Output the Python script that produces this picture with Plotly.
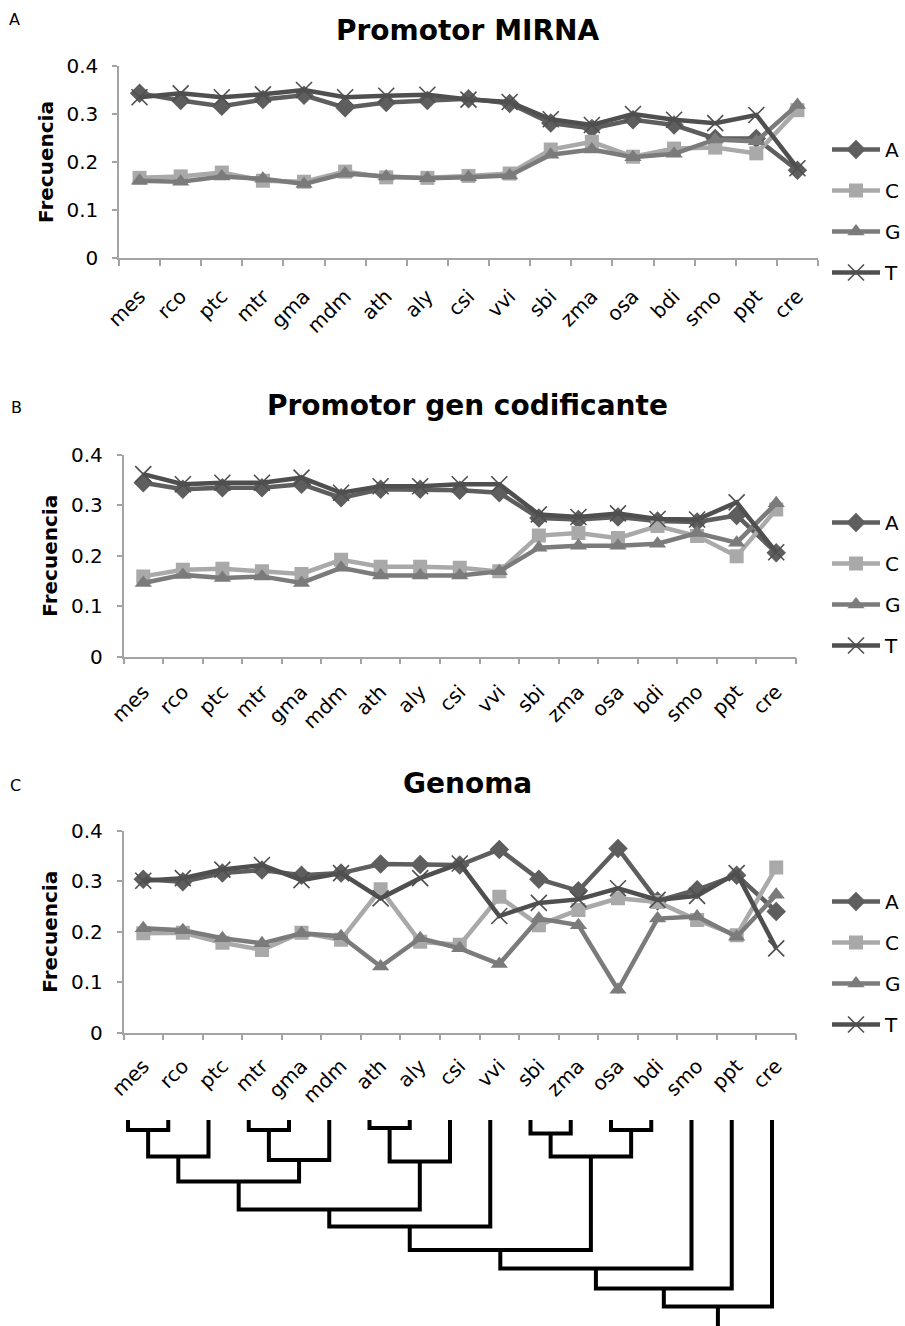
import plotly.graph_objects as go

# ---------------- data ----------------
cats = ["mes", "rco", "ptc", "mtr", "gma", "mdm", "ath", "aly", "csi",
        "vvi", "sbi", "zma", "osa", "bdi", "smo", "ppt", "cre"]

# Panel A: Promotor MIRNA
mirna_A = [0.343, 0.328, 0.316, 0.330, 0.339, 0.313, 0.324, 0.328, 0.332,
           0.322, 0.281, 0.270, 0.288, 0.277, 0.249, 0.249, 0.183]
mirna_C = [0.167, 0.170, 0.178, 0.161, 0.159, 0.180, 0.168, 0.167, 0.171,
           0.176, 0.226, 0.242, 0.211, 0.228, 0.230, 0.218, 0.308]
mirna_G = [0.161, 0.159, 0.170, 0.165, 0.154, 0.176, 0.170, 0.166, 0.168,
           0.172, 0.215, 0.226, 0.210, 0.217, 0.247, 0.243, 0.319]
mirna_T = [0.335, 0.343, 0.335, 0.341, 0.350, 0.335, 0.338, 0.340, 0.330,
           0.325, 0.289, 0.277, 0.300, 0.288, 0.281, 0.298, 0.187]

# Panel B: Promotor gen codificante
gen_A = [0.345, 0.332, 0.335, 0.335, 0.342, 0.315, 0.332, 0.332, 0.330,
         0.325, 0.275, 0.272, 0.277, 0.269, 0.267, 0.280, 0.206]
gen_C = [0.159, 0.172, 0.174, 0.169, 0.164, 0.192, 0.178, 0.178, 0.176,
         0.169, 0.240, 0.245, 0.235, 0.259, 0.239, 0.199, 0.292]
gen_G = [0.146, 0.162, 0.156, 0.159, 0.146, 0.176, 0.161, 0.161, 0.161,
         0.169, 0.216, 0.220, 0.220, 0.224, 0.245, 0.226, 0.304]
gen_T = [0.362, 0.342, 0.345, 0.345, 0.355, 0.325, 0.338, 0.338, 0.342,
         0.342, 0.282, 0.277, 0.284, 0.273, 0.272, 0.306, 0.207]

# Panel C: Genoma
geno_A = [0.304, 0.299, 0.316, 0.322, 0.312, 0.316, 0.334, 0.333, 0.332,
          0.363, 0.304, 0.281, 0.365, 0.261, 0.283, 0.312, 0.240]
geno_C = [0.197, 0.198, 0.178, 0.164, 0.198, 0.184, 0.284, 0.180, 0.174,
          0.269, 0.213, 0.243, 0.266, 0.259, 0.223, 0.193, 0.327]
geno_G = [0.207, 0.203, 0.187, 0.177, 0.197, 0.191, 0.131, 0.187, 0.167,
          0.136, 0.226, 0.213, 0.085, 0.226, 0.230, 0.190, 0.273]
geno_T = [0.301, 0.306, 0.323, 0.332, 0.302, 0.316, 0.266, 0.306, 0.335,
          0.231, 0.257, 0.264, 0.286, 0.263, 0.271, 0.316, 0.167]

bases = ["A", "C", "G", "T"]
panel_titles = ["Promotor MIRNA", "Promotor gen codificante", "Genoma"]
panel_letters = ["A", "B", "C"]
y_title = "Frecuencia"
y_ticks = [0, 0.1, 0.2, 0.3, 0.4]
y_ticktext = ["0", "0.1", "0.2", "0.3", "0.4"]

# Dendrogram (leaves = cats order); merges: node ids 17.. in order
dendro_left = [0, 17, 3, 19, 18, 6, 22, 21, 24, 10, 12, 26, 25, 29, 30, 31]
dendro_right = [1, 2, 4, 5, 20, 7, 8, 23, 9, 11, 13, 27, 28, 14, 15, 16]
dendro_height = [0.5, 1.83, 0.5, 2.0, 3.08, 0.4, 2.08, 4.47, 5.33, 0.67,
                 0.5, 1.83, 6.5, 7.42, 8.42, 9.33]
dendro_root_end = 10.4

# ---------------- styles ----------------
FONT = "DejaVu Sans"
colors = {"A": "#5e5e5e", "C": "#a9a9a9", "G": "#7b7b7b", "T": "#4f4f4f"}
symbols = {"A": "diamond", "C": "square", "G": "triangle-up", "T": "x-thin"}
msize = {"A": 15, "C": 14, "G": 15, "T": 16}

W, H = 905, 1326
panels = [
    dict(series=[mirna_A, mirna_C, mirna_G, mirna_T], x0=119, x1=818, ytop=66, ybot=258),
    dict(series=[gen_A, gen_C, gen_G, gen_T], x0=123.5, x1=796, ytop=455, ybot=656.5),
    dict(series=[geno_A, geno_C, geno_G, geno_T], x0=123.5, x1=796, ytop=830.7, ybot=1032.7),
]
title_y = [30, 405, 783]
letter_pos = [(14, 20), (16, 407), (15, 785)]
legend_top = [130, 503, 882]
xlabel_standoff = [17, 14, 12]

fig = go.Figure()
annotations = []
layout = dict(width=W, height=H, margin=dict(l=0, r=0, t=0, b=0, autoexpand=False),
              paper_bgcolor="white", plot_bgcolor="white", showlegend=True,
              template="none")

for p, pan in enumerate(panels):
    suf = "" if p == 0 else str(p + 1)
    leg = "legend" + suf
    for b, vals in zip(bases, pan["series"]):
        marker = dict(symbol=symbols[b], size=msize[b], color=colors[b])
        if b == "T":
            marker["line"] = dict(width=1.6, color=colors[b])
        fig.add_trace(go.Scatter(
            x=cats, y=vals, name=b, mode="lines+markers",
            line=dict(color=colors[b], width=4.5),
            marker=marker, xaxis="x" + suf, yaxis="y" + suf,
            legend=leg, legendgroup=f"{p}{b}", showlegend=True,
        ))
    layout["xaxis" + suf] = dict(
        domain=[pan["x0"] / W, pan["x1"] / W], anchor="y" + suf, automargin=False,
        type="category", categoryarray=cats, categoryorder="array",
        range=[-0.5, 16.5], showline=True, linecolor="#a3a3a3", linewidth=1.5,
        ticks="outside", tickson="boundaries", ticklen=6, tickcolor="#a3a3a3",
        tickwidth=1.5, tickangle=-45, showgrid=False, zeroline=False,
        ticklabelstandoff=xlabel_standoff[p],
        tickfont=dict(family=FONT, size=20, color="black"))
    layout["yaxis" + suf] = dict(
        domain=[1 - pan["ybot"] / H, 1 - pan["ytop"] / H], anchor="x" + suf,
        automargin=False,
        range=[0, 0.4], tickvals=y_ticks, ticktext=y_ticktext,
        showline=True, linecolor="#a3a3a3", linewidth=1.5,
        ticks="outside", ticklen=5, tickcolor="#a3a3a3", tickwidth=1.5,
        ticklabelstandoff=10, showgrid=False, zeroline=False,
        tickfont=dict(family=FONT, size=20, color="black"))
    layout[leg] = dict(
        x=827 / W, xanchor="left", y=1 - legend_top[p] / H, yanchor="top",
        font=dict(family=FONT, size=20, color="black"), bgcolor="rgba(0,0,0,0)",
        traceorder="grouped", tracegroupgap=12, itemwidth=48)
    # panel title
    annotations.append(dict(
        text="<b>" + panel_titles[p] + "</b>", x=468 / W, y=1 - title_y[p] / H,
        xref="paper", yref="paper", showarrow=False, xanchor="center", yanchor="middle",
        font=dict(family=FONT, size=28, color="black")))
    # panel letter
    lx, ly = letter_pos[p]
    annotations.append(dict(
        text=panel_letters[p], x=lx / W, y=1 - ly / H, xref="paper", yref="paper",
        showarrow=False, xanchor="center", yanchor="middle",
        font=dict(family=FONT, size=16, color="black")))
    # y-axis title
    annotations.append(dict(
        text="<b>" + y_title + "</b>", x=(46 if p == 0 else 50) / W,
        y=1 - (pan["ytop"] + pan["ybot"]) / 2 / H, xref="paper", yref="paper",
        showarrow=False, textangle=-90, xanchor="center", yanchor="middle",
        font=dict(family=FONT, size=20, color="black")))

# ---------------- dendrogram ----------------
n_leaves = len(cats)
node_x = {i: float(i) for i in range(n_leaves)}
node_h = {i: 0.0 for i in range(n_leaves)}
dx, dy = [], []
for k, (l, r, h) in enumerate(zip(dendro_left, dendro_right, dendro_height)):
    nid = n_leaves + k
    node_x[nid] = (node_x[l] + node_x[r]) / 2
    node_h[nid] = h
    dx += [node_x[l], node_x[l], node_x[r], node_x[r], None]
    dy += [node_h[l], h, h, node_h[r], None]
root = n_leaves + len(dendro_height) - 1
dx += [node_x[root], node_x[root]]
dy += [node_h[root], dendro_root_end]
fig.add_trace(go.Scatter(x=dx, y=dy, mode="lines", line=dict(color="black", width=4),
                         xaxis="x4", yaxis="y4", showlegend=False, hoverinfo="skip"))
leaf_px0, leaf_step = 128, 40.25
layout["xaxis4"] = dict(domain=[0, 1], anchor="y4", automargin=False,
                        range=[-leaf_px0 / leaf_step, (W - leaf_px0) / leaf_step],
                        visible=False)
layout["yaxis4"] = dict(domain=[0, 216 / H], anchor="x4", automargin=False,
                        range=[10.3, -0.5], visible=False)

layout["annotations"] = annotations
fig.update_layout(**layout)
fig.write_html(
    "out.html",
    config={"displayModeBar": False},
    post_script="document.body.style.margin='0';document.body.style.overflow='hidden';",
)
